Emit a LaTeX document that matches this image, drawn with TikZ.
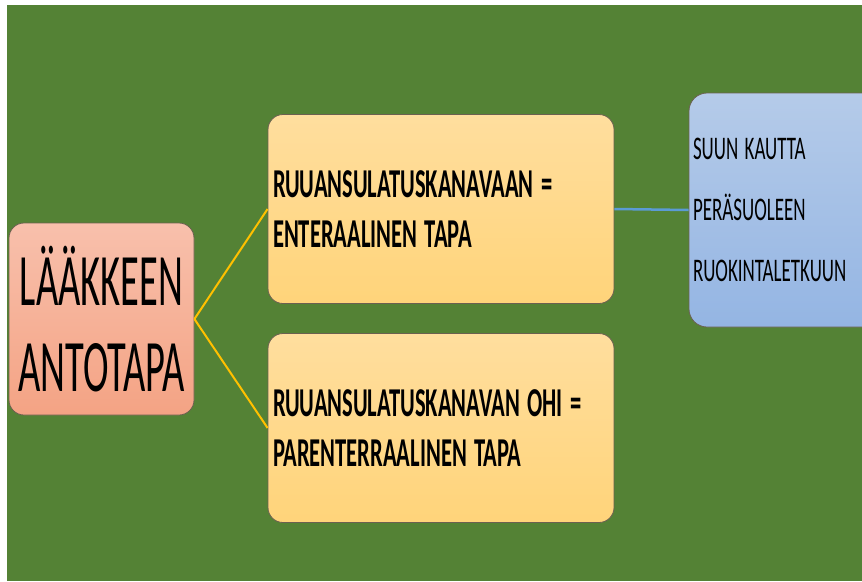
\documentclass[tikz,border=0pt]{standalone}
\usepackage{fontspec}
\setmainfont{Carlito}
\usepackage{graphicx}
\definecolor{bggreen}{HTML}{548235}
\definecolor{salmonT}{HTML}{F8C0AC}
\definecolor{salmonB}{HTML}{F4A384}
\definecolor{orangeT}{HTML}{FFDE9E}
\definecolor{orangeB}{HTML}{FFD47A}
\definecolor{blueT}{HTML}{B5CBE9}
\definecolor{blueB}{HTML}{94B5E3}
\definecolor{linkyellow}{HTML}{FFC000}
\definecolor{linkblue}{HTML}{5B9BD5}
\definecolor{edgecol}{HTML}{6B6050}
\begin{document}
\begin{tikzpicture}[x=1pt,y=-1pt,
  boxbase/.style={draw=edgecol, line width=0.8pt, rounded corners=15pt, inner sep=0pt},
  rootbox/.style={boxbase, top color=salmonT, bottom color=salmonB,
    minimum width=185pt, minimum height=192pt, align=center,
    font=\fontsize{74}{86}\selectfont},
  midbox/.style={boxbase, top color=orangeT, bottom color=orangeB,
    minimum width=346pt, minimum height=189pt, text width=336pt, align=left,
    font=\fontsize{41}{50}\selectfont\bfseries},
  leafbox/.style={boxbase, rounded corners=18pt, top color=blueT, bottom color=blueB,
    minimum width=196pt, minimum height=234pt, text width=188pt, align=left,
    font=\fontsize{33}{61}\selectfont},
  ylink/.style={draw=linkyellow, line width=2pt},
  blink/.style={draw=linkblue, line width=2.5pt}]
\fill[white] (0,0) rectangle (862,581);
\useasboundingbox (0,0) rectangle (862,581);
\fill[bggreen] (7,5) rectangle (862,581);

\node[rootbox] (root) at (101.5,319) {\scalebox{0.52}[1]{LÄÄKKEEN}\\\scalebox{0.52}[1]{ANTOTAPA}};
\node[midbox] (enteral) at (441,209) {\scalebox{0.55}[1]{RUUANSULATUSKANAVAAN =}\\\scalebox{0.55}[1]{ENTERAALINEN TAPA}};
\node[midbox] (parenteral) at (441,428) {\scalebox{0.55}[1]{RUUANSULATUSKANAVAN OHI =}\\\scalebox{0.55}[1]{PARENTERRAALINEN TAPA}};
\node[leafbox] (routes) at (787,210) {\scalebox{0.575}[1]{SUUN KAUTTA}\\\scalebox{0.575}[1]{PERÄSUOLEEN}\\\scalebox{0.575}[1]{RUOKINTALETKUUN}};

\draw[ylink] (root.east) -- (enteral.west);
\draw[ylink] (root.east) -- (parenteral.west);
\draw[blink] (enteral.east) -- (routes.west);
\end{tikzpicture}
\end{document}
